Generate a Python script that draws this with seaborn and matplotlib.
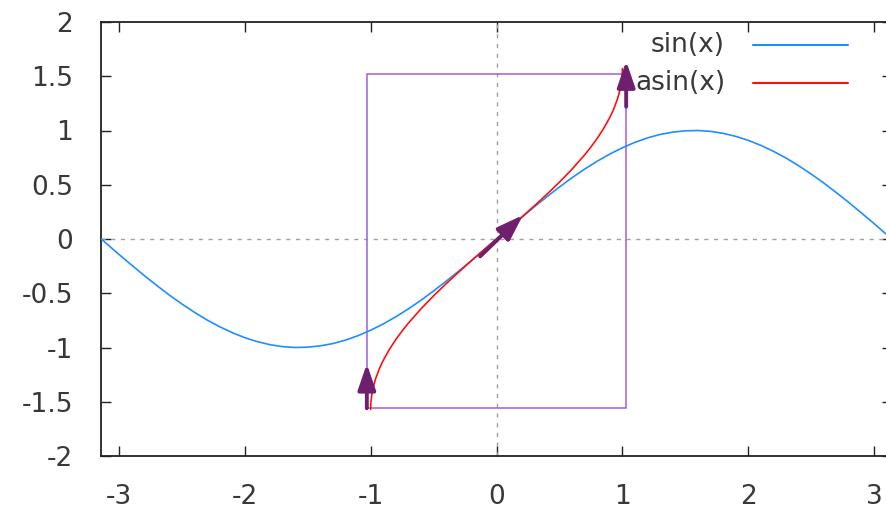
import numpy as np
import pandas as pd
import seaborn as sns
import matplotlib.pyplot as plt
from matplotlib.patches import Rectangle

# sin(x) sampled across [-pi, pi]
sin_x = [-3.14, -3.0, -2.9, -2.8, -2.7, -2.6, -2.5, -2.4, -2.3, -2.2, -2.1, -2.0,
         -1.9, -1.8, -1.7, -1.6, -1.5, -1.4, -1.3, -1.2, -1.1, -1.0, -0.9, -0.8,
         -0.7, -0.6, -0.5, -0.4, -0.3, -0.2, -0.1, 0.0, 0.1, 0.2, 0.3, 0.4, 0.5,
         0.6, 0.7, 0.8, 0.9, 1.0, 1.1, 1.2, 1.3, 1.4, 1.5, 1.6, 1.7, 1.8, 1.9,
         2.0, 2.1, 2.2, 2.3, 2.4, 2.5, 2.6, 2.7, 2.8, 2.9, 3.0, 3.14]
sin_y = [0.00, -0.141, -0.239, -0.335, -0.427, -0.516, -0.598, -0.675, -0.746, -0.808, -0.863, -0.909,
         -0.946, -0.974, -0.992, -1.000, -0.997, -0.985, -0.964, -0.932, -0.891, -0.841, -0.783, -0.717,
         -0.644, -0.565, -0.479, -0.389, -0.296, -0.199, -0.100, 0.000, 0.100, 0.199, 0.296, 0.389, 0.479,
         0.565, 0.644, 0.717, 0.783, 0.841, 0.891, 0.932, 0.964, 0.985, 0.997, 1.000, 0.992, 0.974, 0.946,
         0.909, 0.863, 0.808, 0.746, 0.675, 0.598, 0.516, 0.427, 0.335, 0.239, 0.141, 0.00]

# asin(x) sampled across [-1, 1]
asin_x = [-1.0, -0.998, -0.99, -0.98, -0.96, -0.93, -0.9, -0.85, -0.8, -0.75, -0.7, -0.6, -0.5,
          -0.4, -0.3, -0.2, -0.1, 0.0, 0.1, 0.2, 0.3, 0.4, 0.5, 0.6, 0.7, 0.75, 0.8, 0.85,
          0.9, 0.93, 0.96, 0.98, 0.99, 0.998, 1.0]
asin_y = [-1.571, -1.508, -1.429, -1.370, -1.287, -1.194, -1.120, -1.016, -0.927, -0.848, -0.775, -0.644, -0.524,
          -0.412, -0.305, -0.201, -0.100, 0.000, 0.100, 0.201, 0.305, 0.412, 0.524, 0.644, 0.775, 0.848, 0.927, 1.016,
          1.120, 1.194, 1.287, 1.370, 1.429, 1.508, 1.571]

series_names = ["sin(x)", "asin(x)"]
series_colors = ["#1e8fff", "#ff1010"]

x_ticks = [-3, -2, -1, 0, 1, 2, 3]
x_labels = ["-3", "-2", "-1", "0", "1", "2", "3"]
y_ticks = [-2, -1.5, -1, -0.5, 0, 0.5, 1, 1.5, 2]
y_labels = ["-2", "-1.5", "-1", "-0.5", "0", "0.5", "1", "1.5", "2"]

# box drawn around asin range (x0, y0, x1, y1)
box = [-1.03, -1.56, 1.03, 1.52]
# arrows: (x_tail, y_tail, x_head, y_head)
arrows = [(-1.03, -1.56, -1.03, -1.15),
          (-0.13, -0.16, 0.21, 0.22),
          (1.03, 1.22, 1.03, 1.64)]

sns.set_style("ticks")
plt.rcParams["font.family"] = ["DejaVu Sans"]
text_col = "#383838"

df = pd.concat([
    pd.DataFrame({"x": sin_x, "y": sin_y, "f": series_names[0]}),
    pd.DataFrame({"x": asin_x, "y": asin_y, "f": series_names[1]}),
])

fig = plt.figure(figsize=(8.86, 5.09), dpi=100)
ax = fig.add_axes([101 / 886, 53 / 509, 791 / 886, 434 / 509])

# zero axes
ax.axhline(0, color="#a0a0a0", lw=1, ls=(0, (3, 4)), zorder=1)
ax.axvline(0, color="#a0a0a0", lw=1, ls=(0, (3, 4)), zorder=1)

sns.lineplot(data=df, x="x", y="y", hue="f", palette=series_colors, sort=False,
             estimator=None, lw=1.2, legend=False, ax=ax, zorder=3)

ax.add_patch(Rectangle((box[0], box[1]), box[2] - box[0], box[3] - box[1],
                       fill=False, ec="#9b5fe0", lw=1.1, zorder=2))

for xt, yt, xh, yh in arrows:
    ax.annotate("", xy=(xh, yh), xytext=(xt, yt),
                arrowprops=dict(arrowstyle="-|>,head_length=1.05,head_width=0.36",
                                mutation_scale=15, color="#6e1f6e", lw=2.8,
                                shrinkA=0, shrinkB=0), zorder=4)

ax.set_xlim(-np.pi, np.pi)
ax.set_ylim(-2, 2)
ax.set_xticks(x_ticks, x_labels)
ax.set_yticks(y_ticks, y_labels)
ax.set_xlabel("")
ax.set_ylabel("")
ax.tick_params(direction="in", length=7, width=1, colors="#222222",
               labelcolor=text_col, labelsize=19, pad=20,
               top=True, right=True)
for s in ax.spines.values():
    s.set_visible(True)
    s.set_linewidth(1.3)
    s.set_color("#222222")

# key, right side
key_rows = [0.946, 0.860]
for name, col, yk in zip(series_names, series_colors, key_rows):
    ax.text(0.789, yk, name, transform=ax.transAxes, ha="right", va="center",
            fontsize=19, color=text_col, zorder=5)
    ax.plot([0.824, 0.944], [yk, yk], transform=ax.transAxes, color=col, lw=1.5,
            clip_on=False, zorder=5)

fig.savefig("out.png", dpi=100)
plt.close(fig)
